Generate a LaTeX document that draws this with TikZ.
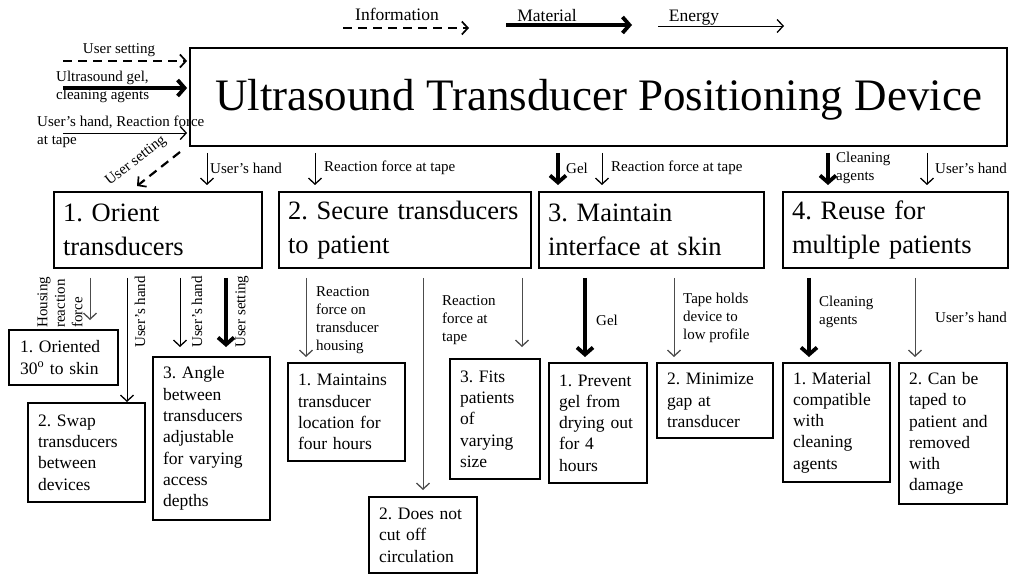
\documentclass[tikz,border=0pt]{standalone}
\usepackage{fontspec}
\setmainfont{Liberation Serif}
\usepackage{tikz}
\usetikzlibrary{arrows.meta,positioning,calc}
\frenchspacing
\hyphenpenalty=10000

\begin{document}
\begin{tikzpicture}[x=1pt,y=-1pt,
    energy/.style={line width=0.9pt,-{Straight Barb[length=6pt,width=13pt,line width=1.3pt]}},
    material/.style={line width=3.8pt,-{Straight Barb[length=7pt,width=16pt]}},
    info/.style={line width=2.2pt,dash pattern=on 9pt off 6pt,-{Straight Barb[length=6pt,width=13pt,line width=1.7pt]}},
    fbox/.style={draw,line width=1.6pt,align=left,inner xsep=9pt,inner ysep=0pt,minimum height=76pt,font=\fontsize{26.5}{34}\selectfont},
    req/.style={draw,line width=1.4pt,align=left,inner xsep=10pt,inner ysep=0pt,font=\fontsize{17.5}{21.3}\selectfont},
    lbl/.style={inner sep=0pt,align=left,font=\fontsize{15}{18}\selectfont},
    legend/.style={inner sep=0pt,anchor=base,font=\fontsize{17.5}{20}\selectfont}]
    \useasboundingbox (0,0) rectangle (1010,575);

    % Legend
    \node[legend] (legInfo) at (397,21) {Information};
    \coordinate (legInfoS) at (343,28);
    \coordinate (legInfoE) at (469,28);
    \draw[info] (legInfoS) -- (legInfoE);
    \node[legend] (legMat) at (547,22) {Material};
    \coordinate (legMatS) at (506,25);
    \coordinate (legMatE) at (632,25);
    \draw[material] (legMatS) -- (legMatE);
    \node[legend] (legEn) at (694,22) {Energy};
    \coordinate (legEnS) at (658,26);
    \coordinate (legEnE) at (784,26);
    \draw[energy] (legEnS) -- (legEnE);

    % Overall device
    \node[draw,line width=1.8pt,minimum width=817pt,minimum height=98pt,inner sep=0pt,
          text height=34pt,text depth=6pt,font=\fontsize{45}{50}\selectfont]
          (main) at (598.5,97) {Ultrasound Transducer Positioning Device};

    % Inputs
    \coordinate (inSet) at (63,61);
    \draw[info,shorten >=2pt] (inSet) -- (inSet -| main.west);
    \node[lbl] (lInSet) at (119,50) {User setting};
    \coordinate (inGel) at (63,88);
    \draw[material,shorten >=2pt] (inGel) -- (inGel -| main.west);
    \node[lbl,anchor=west] (lInGel) at (56,87) {Ultrasound gel,\\cleaning agents};
    \coordinate (inHand) at (63,133);
    \draw[energy,shorten >=2pt] (inHand) -- (inHand -| main.west);
    \node[lbl,anchor=west] (lInHand) at (37,132) {User's hand, Reaction force\\at tape};

    % Output
    \coordinate (outSetS) at (180,152);
    \coordinate (outSetE) at (137,186);
    \draw[info] (outSetS) -- (outSetE);
    \node[lbl,rotate=38] (lOutSet) at (136,161) {User setting};

    % Functions
    \node[fbox,text width=190pt] (f1) at (158,230) {1. Orient\\transducers};
    \node[fbox,text width=234pt] (f2) at (405,230) {2. Secure transducers\\to patient};
    \node[fbox,text width=207pt] (f3) at (651.5,230) {3. Maintain\\interface at skin};
    \node[fbox,text width=207pt] (f4) at (895.5,230) {4. Reuse for\\multiple patients};

    \coordinate (tF1) at (207,185);
    \draw[energy,shorten <=6pt] (main.south -| tF1) -- (tF1);
    \node[lbl,anchor=west] (lF1) at (210,168) {User's hand};
    \coordinate (tF2) at (315,185);
    \draw[energy,shorten <=6pt] (main.south -| tF2) -- (tF2);
    \node[lbl,anchor=west] (lF2) at (324,168) {Reaction force at tape};
    \coordinate (tF3a) at (558,185);
    \draw[material,shorten <=6pt] (main.south -| tF3a) -- (tF3a);
    \node[lbl,anchor=west] (lF3a) at (566,168) {Gel};
    \coordinate (tF3b) at (602,185);
    \draw[energy,shorten <=6pt] (main.south -| tF3b) -- (tF3b);
    \node[lbl,anchor=west] (lF3b) at (611,168) {Reaction force at tape};
    \coordinate (tF4a) at (828,185);
    \draw[material,shorten <=6pt] (main.south -| tF4a) -- (tF4a);
    \node[lbl,anchor=west] (lF4a) at (836,168) {Cleaning\\agents};
    \coordinate (tF4b) at (927,185);
    \draw[energy,shorten <=6pt] (main.south -| tF4b) -- (tF4b);
    \node[lbl,anchor=west] (lF4b) at (935,168) {User's hand};

    % Requirements of 1
    \node[req,text width=87pt,minimum height=55pt,inner xsep=11pt] (r11) at (63.5,357.5) {1. Oriented\\30\textsuperscript{o} to skin};
    \node[req,text width=97pt,minimum height=99pt] (r12) at (86.5,452.5) {2. Swap\\transducers\\between\\devices};
    \node[req,text width=97pt,minimum height=163pt] (r13) at (211.5,438.5) {3. Angle\\between\\transducers\\adjustable\\for varying\\access\\depths};
    \coordinate (t11) at (90,320);
    \draw[energy,draw=black!70,shorten <=9pt] (f1.south -| t11) -- (t11);
    \node[lbl,rotate=90,anchor=west,font=\fontsize{15}{17.5}\selectfont] (l11) at (60,328) {Housing\\reaction\\force};
    \coordinate (t12) at (127,402);
    \draw[energy,shorten <=9pt] (f1.south -| t12) -- (t12);
    \node[lbl,rotate=90,anchor=west] (l12) at (140,348) {User's hand};
    \coordinate (t13) at (180,347);
    \draw[energy,shorten <=9pt] (f1.south -| t13) -- (t13);
    \node[lbl,rotate=90,anchor=west] (l13) at (197,348) {User's hand};
    \coordinate (t14) at (226,347);
    \draw[material,shorten <=9pt] (f1.south -| t14) -- (t14);
    \node[lbl,rotate=90,anchor=west] (l14) at (242,348) {User setting};

    % Requirements of 2
    \node[req,text width=97pt,minimum height=98pt] (r21) at (346.5,412) {1. Maintains\\transducer\\location for\\four hours};
    \node[req,text width=88pt,minimum height=76pt] (r22) at (423,535) {2. Does not\\cut off\\circulation};
    \node[req,text width=70pt,minimum height=120pt] (r23) at (495,419) {3. Fits\\patients\\of\\varying\\size};
    \coordinate (t21) at (306,357);
    \draw[energy,draw=black!70,shorten <=9pt] (f2.south -| t21) -- (t21);
    \node[lbl,anchor=west] (l21) at (316,320) {Reaction\\force on\\transducer\\housing};
    \coordinate (t22) at (423,490);
    \draw[energy,draw=black!70,shorten <=9pt] (f2.south -| t22) -- (t22);
    \coordinate (t23) at (522,347);
    \draw[energy,draw=black!70,shorten <=9pt] (f2.south -| t23) -- (t23);
    \node[lbl,anchor=west] (l23) at (442,320) {Reaction\\force at\\tape};

    % Requirements of 3
    \node[req,text width=78pt,minimum height=120pt] (r31) at (598,423) {1. Prevent\\gel from\\drying out\\for 4\\hours};
    \node[req,text width=96pt,minimum height=75pt] (r32) at (715,400.5) {2. Minimize\\gap at\\transducer};
    \coordinate (t31) at (585,357);
    \draw[material,shorten <=9pt] (f3.south -| t31) -- (t31);
    \node[lbl,anchor=west] (l31) at (596,320) {Gel};
    \coordinate (t32) at (674,357);
    \draw[energy,draw=black!70,shorten <=9pt] (f3.south -| t32) -- (t32);
    \node[lbl,anchor=west] (l32) at (683,318) {Tape holds\\device to\\low profile};

    % Requirements of 4
    \node[req,text width=87pt,minimum height=119pt] (r41) at (836.5,422.5) {1. Material\\compatible\\with\\cleaning\\agents};
    \node[req,text width=88pt,minimum height=141pt] (r42) at (953,433.5) {2. Can be\\taped to\\patient and\\removed\\with\\damage};
    \coordinate (t41) at (809,357);
    \draw[material,shorten <=9pt] (f4.south -| t41) -- (t41);
    \node[lbl,anchor=west] (l41) at (819,312) {Cleaning\\agents};
    \coordinate (t42) at (915,357);
    \draw[energy,draw=black!70,shorten <=9pt] (f4.south -| t42) -- (t42);
    \node[lbl,anchor=west] (l42) at (935,317) {User's hand};
\end{tikzpicture}
\end{document}
